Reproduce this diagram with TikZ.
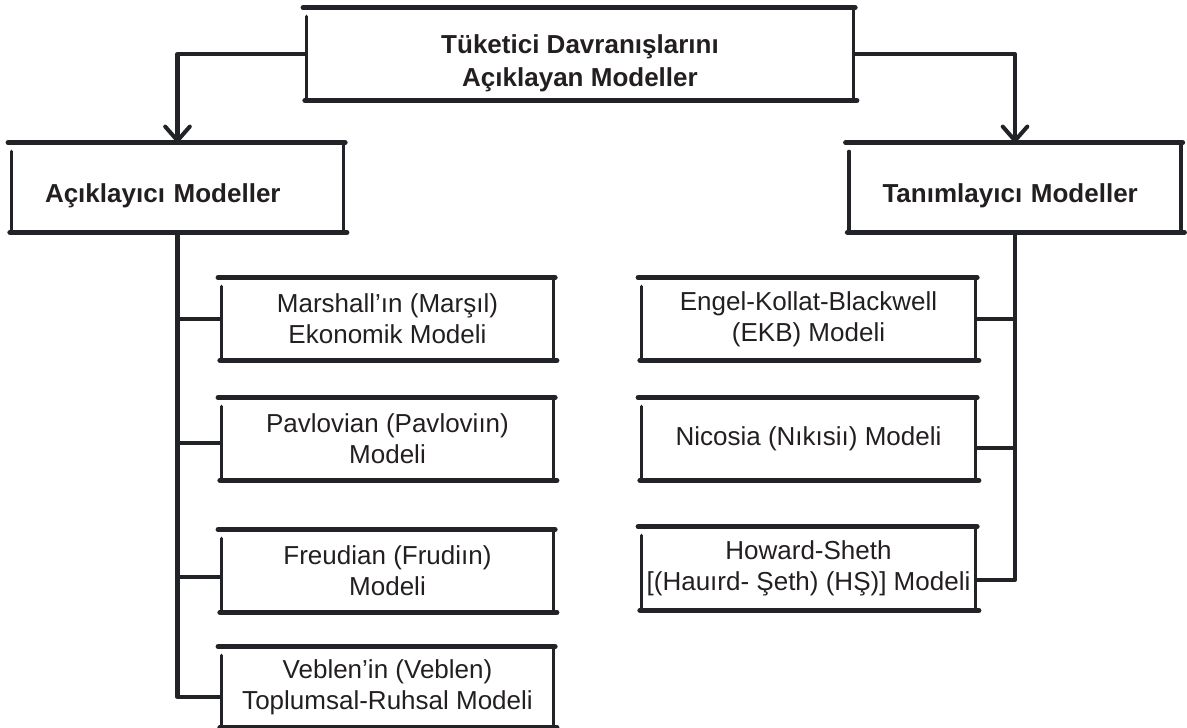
\documentclass[tikz,border=0pt]{standalone}
\usepackage{fontspec}
\setmainfont{Liberation Sans}
\usepackage{xcolor}
\usepackage{tikz}
\usetikzlibrary{arrows.meta, positioning, calc}
\definecolor{inkcolor}{RGB}{33, 35, 38}
\definecolor{lettercolor}{RGB}{35, 31, 32}
\tikzstyle{titlebox} = [rectangle, minimum width=10.92cm, minimum height=1.84cm, align=center, text=lettercolor, font=\bfseries\fontsize{14.8}{18.8}\selectfont]
\tikzstyle{groupbox} = [rectangle, minimum width=6.62cm, minimum height=1.78cm, text width=5.3cm, inner xsep=0.66cm, text height=20pt, align=left, text=lettercolor, font=\bfseries\fontsize{14.8}{18}\selectfont]
\tikzstyle{modelbox} = [rectangle, minimum width=6.62cm, minimum height=1.64cm, inner sep=2pt, align=center, text=lettercolor, font=\fontsize{14.8}{17.8}\selectfont]
\tikzstyle{rim} = [draw=inkcolor, line width=2.9pt, line cap=round]
\tikzstyle{wall} = [draw=inkcolor, line width=2pt, line cap=round]
\tikzstyle{branch} = [draw=inkcolor, line width=2.3pt, line join=round]
\tikzstyle{arrow} = [branch, -{Straight Barb[length=8pt, width=14pt, round]}]

\begin{document}
\begin{tikzpicture}
    \useasboundingbox (0, 0) rectangle (23.74, -14.56);

    % Title
    \node[titlebox, text height=40pt] (title) at (11.6, -1.08) {Tüketici Davranışlarını\\Açıklayan Modeller};

    % Groups
    \node[groupbox] (explain) at (3.55, -3.75) {Açıklayıcı Modeller};
    \node[groupbox] (describe) at (20.3, -3.75) {Tanımlayıcı Modeller};

    % Left side - explanatory models
    \node[modelbox] (marshall) at (7.75, -6.38) {Marshall’ın (Marşıl)\\Ekonomik Modeli};
    \node[modelbox] (pavlov) at (7.75, -8.78) {Pavlovian (Pavloviın)\\Modeli};
    \node[modelbox] (freud) at (7.75, -11.42) {Freudian (Frudiın)\\Modeli};
    \node[modelbox, minimum height=1.6cm] (veblen) at (7.75, -13.74) {Veblen’in (Veblen)\\Toplumsal-Ruhsal Modeli};

    % Right side - descriptive models
    \node[modelbox, minimum width=6.66cm] (ekb) at (16.17, -6.38) {Engel-Kollat-Blackwell\\(EKB) Modeli};
    \node[modelbox, minimum width=6.66cm] (nicosia) at (16.17, -8.78) {Nicosia (Nıkısiı) Modeli};
    \node[modelbox, minimum width=6.66cm, minimum height=1.66cm] (howard) at (16.17, -11.37) {Howard-Sheth\\{[}(Hauırd- Şeth) (HŞ)] Modeli};

    % Arrows - title to groups
    \draw[arrow] (title.west) -| (explain.north);
    \draw[arrow] (title.east) -| (describe.north);

    % Lines - left trunk
    \draw[branch] (explain.south) |- ([yshift=-0.2cm]veblen.west);
    \foreach \m/\dy in {marshall/0, pavlov/-0.08, freud/-0.12}
        \draw[branch] ([yshift=\dy cm]explain.south |- \m.west) -- ([yshift=\dy cm]\m.west);

    % Lines - right trunk
    \draw[branch] (describe.south) |- ([yshift=-0.23cm]howard.east);
    \foreach \m/\dy in {ekb/0, nicosia/-0.18}
        \draw[branch] ([yshift=\dy cm]describe.south |- \m.east) -- ([yshift=\dy cm]\m.east);

    % Sketchy borders
    \foreach \n in {title, explain, describe, marshall, pavlov, freud, veblen, ekb, nicosia, howard} {
        \draw[rim] ([xshift=-2pt]\n.north west) -- ([xshift=1pt]\n.north east);
        \draw[rim] ([xshift=-1pt]\n.south west) -- ([xshift=2pt]\n.south east);
        \draw[wall] ([yshift=-5pt]\n.north west) -- (\n.south west);
        \draw[wall] (\n.north east) -- (\n.south east);
    }
\end{tikzpicture}
\end{document}
